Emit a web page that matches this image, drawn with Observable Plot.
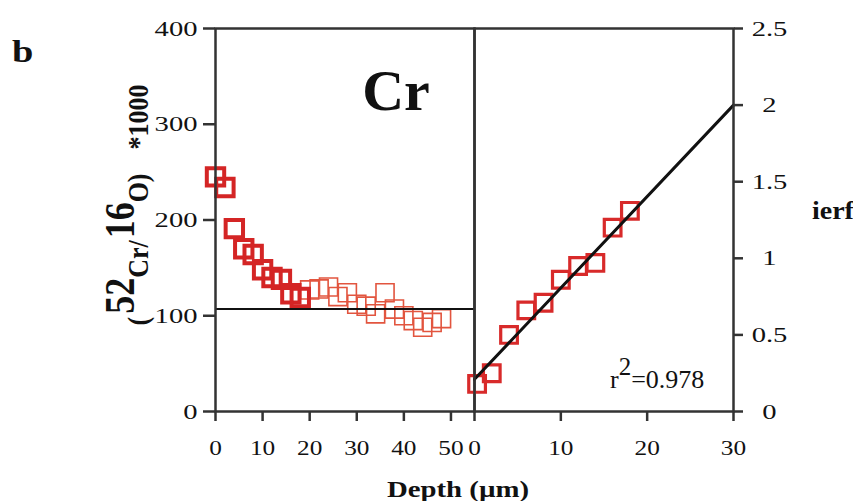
<!DOCTYPE html>
<html><head><meta charset="utf-8">
<script src="https://cdn.jsdelivr.net/npm/d3@7"></script>
<script src="https://cdn.jsdelivr.net/npm/@observablehq/plot@0.6"></script>
<style>
html,body{margin:0;padding:0;background:#fff;}
#wrap{position:relative;width:853px;height:501px;overflow:hidden;background:#fff;}
#wrap svg{position:absolute;left:0;top:0;}
</style></head><body><div id="wrap"></div>
<script>
// ---- data ----
const depthThick = [0, 2, 4, 6, 8, 10, 12, 14, 16, 18];
const ratioThick = [245, 234, 191, 170, 164, 148, 140, 138, 123, 119];
const depthThin = [20, 22, 24, 26, 28, 30, 32, 34, 36, 38, 40, 42, 44, 46, 48];
const ratioThin = [127, 128, 130, 120, 124, 112, 110, 102, 124, 107, 100, 95, 88, 93, 97];
const backgroundLevel = [107];
const ierfDepth = [0.3, 2, 4, 6, 8, 10, 12, 14, 16, 18];
const ierfValue = [0.18, 0.25, 0.50, 0.66, 0.71, 0.86, 0.95, 0.97, 1.20, 1.31];
const fitDepth = [0, 30];
const fitIerf = [0.21, 2.0];
const leftXTicks = [0, 10, 20, 30, 40, 50];
const leftYTicks = [0, 100, 200, 300, 400];
const rightXTicks = [0, 10, 20, 30];
const rightYTicks = [0, 0.5, 1, 1.5, 2, 2.5];

const thick = depthThick.map((d, i) => ({depth: d, ratio: ratioThick[i]}));
const thin = depthThin.map((d, i) => ({depth: d, ratio: ratioThin[i]}));
const ierf = ierfDepth.map((d, i) => ({depth: d, ierf: ierfValue[i]}));
const fit = fitDepth.map((d, i) => ({depth: d, ierf: fitIerf[i]}));

const FONT = "'Liberation Serif'";
const AX = "#333";
const common = {
  width: 853, height: 501, marginTop: 28, marginBottom: 90,
  style: {fontFamily: FONT, fontSize: "22px", background: "transparent", color: "#111", overflow: "visible"}
};

const left = Plot.plot({
  ...common,
  marginLeft: 215, marginRight: 379,
  x: {domain: [0, 55], axis: null},
  y: {domain: [0, 400], axis: null},
  marks: [
    Plot.dot(thin, {x: "depth", y: "ratio", symbol: "square", r: 10.2, fill: "none", stroke: "#e2553f", strokeWidth: 1.6}),
    Plot.dot(thick, {x: "depth", y: "ratio", symbol: "square", r: 9.8, fill: "none", stroke: "#d42525", strokeWidth: 4}),
    Plot.ruleY(backgroundLevel, {stroke: "#111", strokeWidth: 2}),
    Plot.frame({stroke: AX, strokeWidth: 2.5}),
    Plot.axisX({ticks: leftXTicks, tickFormat: d => String(d), tickSize: 10, tickPadding: 18, stroke: AX, strokeWidth: 2.5, label: null}),
    Plot.axisY({ticks: leftYTicks, tickFormat: d => String(d), tickSize: 12, tickPadding: 6, stroke: AX, strokeWidth: 2.5, label: null})
  ]
});

const right = Plot.plot({
  ...common,
  marginLeft: 474, marginRight: 120,
  x: {domain: [0, 30], axis: null},
  y: {domain: [0, 2.5], axis: null},
  marks: [
    Plot.dot(ierf, {x: "depth", y: "ierf", symbol: "square", r: 9.4, fill: "none", stroke: "#d82a2a", strokeWidth: 3.2}),
    Plot.line(fit, {x: "depth", y: "ierf", stroke: "#111", strokeWidth: 3}),
    Plot.frame({stroke: AX, strokeWidth: 2.5}),
    Plot.axisX({ticks: rightXTicks, tickFormat: d => String(d), tickSize: 10, tickPadding: 18, stroke: AX, strokeWidth: 2.5, label: null}),
    Plot.axisY({anchor: "right", ticks: rightYTicks, tickFormat: d => String(d), tickSize: 9, tickPadding: 27, textAnchor: "middle", stroke: AX, strokeWidth: 2.5, label: null})
  ]
});

const wrap = document.getElementById("wrap");
wrap.appendChild(left);
wrap.appendChild(right);

function stretch(t, s) {
  const ax = +(t.getAttribute("x") || 0);
  t.setAttribute("transform", (t.getAttribute("transform") || "") + ` translate(${ax},0) scale(${s},1) translate(${-ax},0)`);
}
[left, right].forEach(svg => {
  svg.querySelectorAll('g[aria-label="y-axis tick label"] text').forEach(t => stretch(t, 1.3));
  svg.querySelectorAll('g[aria-label="x-axis tick label"] text').forEach(t => stretch(t, 1.15));
});

// ---- annotations ----
const ann = d3.select(wrap).append("svg")
  .attr("width", 853).attr("height", 501)
  .style("font-family", FONT).style("fill", "#111");

function label(x, y, txt, size, weight, anchor, s) {
  return ann.append("text")
    .attr("transform", `translate(${x},${y}) scale(${s},1)`)
    .attr("text-anchor", anchor)
    .attr("font-size", size).attr("font-weight", weight).text(txt);
}
label(12, 62, "b", 32, "bold", "start", 1.2);
label(396, 110, "Cr", 58, "bold", "middle", 1);
label(812, 219, "ierf", 25, "bold", "start", 1.12);
label(458, 497, "Depth (µm)", 24, "bold", "middle", 1.2);

const r2 = ann.append("text").attr("transform", "translate(610,388)").attr("font-size", 26);
r2.append("tspan").text("r");
r2.append("tspan").attr("dy", -13).attr("font-size", 25).text("2");
r2.append("tspan").attr("dy", 13).text("=0.978");

const yl = ann.append("text")
  .attr("transform", "translate(148,205) rotate(-90) scale(1,1.15)")
  .attr("text-anchor", "middle").attr("font-weight", "bold").attr("font-size", 26);
yl.append("tspan").text("(");
yl.append("tspan").attr("font-size", 36).attr("dy", -12).attr("dx", 3).text("52");
yl.append("tspan").attr("dy", 12).text("Cr/");
yl.append("tspan").attr("font-size", 36).attr("dy", -12).attr("dx", 2).text("16");
yl.append("tspan").attr("dy", 12).text("O)");
yl.append("tspan").attr("dx", 24).text("*1000");
</script></body></html>
